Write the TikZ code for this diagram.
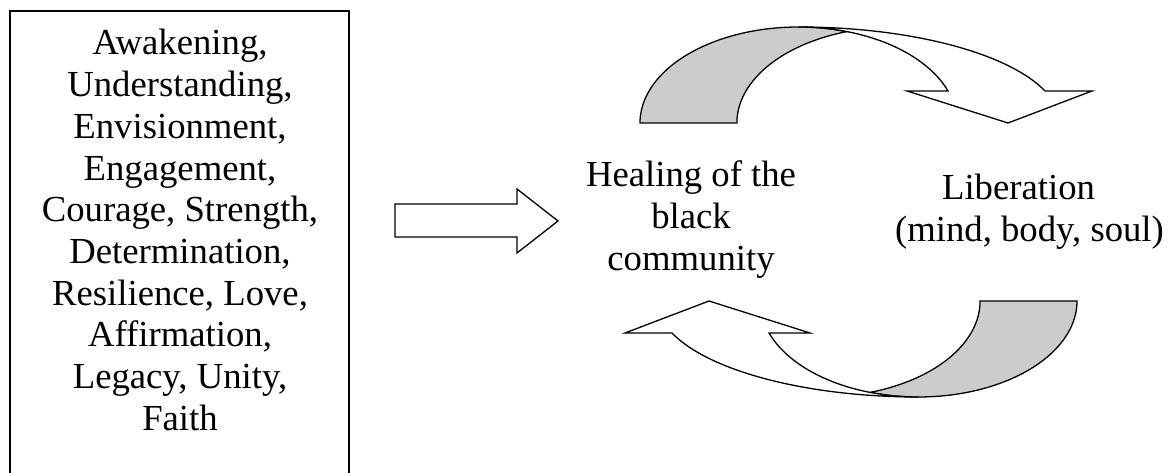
\documentclass[tikz,border=0pt]{standalone}
\usepackage{fontspec}
\setmainfont{Liberation Serif}
\definecolor{shade}{HTML}{CCCCCC}
\tikzset{
  outline/.style={draw=black, line width=1.3pt, line join=miter},
  backband/.style={outline, fill=shade},
  frontband/.style={outline, fill=white},
  txt/.style={anchor=base, inner sep=0pt, font=\fontsize{36.7}{41.7}\selectfont}
}
\begin{document}
\begin{tikzpicture}[x=1pt,y=1pt]
\useasboundingbox (0,0) rectangle (1168,473);
% left box (its bottom edge lies below the picture)
\node[outline, minimum width=339pt, minimum height=472pt, inner sep=0pt] (box) at (179.5,226) {};
\node[txt] (values) at (180,418) {\begin{tabular}[t]{@{}c@{}}Awakening,\\Understanding,\\Envisionment,\\Engagement,\\Courage, Strength,\\Determination,\\Resilience, Love,\\Affirmation,\\Legacy, Unity,\\Faith\end{tabular}};
% straight block arrow
\draw[outline, fill=white] (395,269) -- (517,269) -- (517,284) -- (558,252) -- (517,220) -- (517,236) -- (395,236) -- cycle;
% texts
\node[txt] (healing) at (691,286) {\begin{tabular}[t]{@{}c@{}}Healing of the\\black\\community\end{tabular}};
\node[txt] (liberation) at (1029.5,273) {\begin{tabular}[t]{@{}c@{}}Liberation\hspace*{22pt}\\(mind, body, soul)\end{tabular}};
% top curved arrow
\draw[backband] (640,350) arc[start angle=180, end angle=72.2, x radius=158.5, y radius=96]
  arc[start angle=107.8, end angle=180, x radius=158.5, y radius=96] -- cycle;
\draw[frontband] (847,441.4) arc[start angle=72.2, end angle=19.47, x radius=158.5, y radius=96]
  -- (907,382) -- (1008,350) -- (1092,382) -- (1045,382)
  arc[start angle=19.47, end angle=90, x radius=261.5, y radius=96]
  arc[start angle=90, end angle=72.2, x radius=158.5, y radius=96] -- cycle;
% bottom curved arrow (same shape turned half a turn)
\begin{scope}[rotate around={180:(858.5,261)}]
\draw[backband] (640,350) arc[start angle=180, end angle=72.2, x radius=158.5, y radius=96]
  arc[start angle=107.8, end angle=180, x radius=158.5, y radius=96] -- cycle;
\draw[frontband] (847,441.4) arc[start angle=72.2, end angle=19.47, x radius=158.5, y radius=96]
  -- (907,382) -- (1008,350) -- (1092,382) -- (1045,382)
  arc[start angle=19.47, end angle=90, x radius=261.5, y radius=96]
  arc[start angle=90, end angle=72.2, x radius=158.5, y radius=96] -- cycle;
\end{scope}
\end{tikzpicture}
\end{document}
